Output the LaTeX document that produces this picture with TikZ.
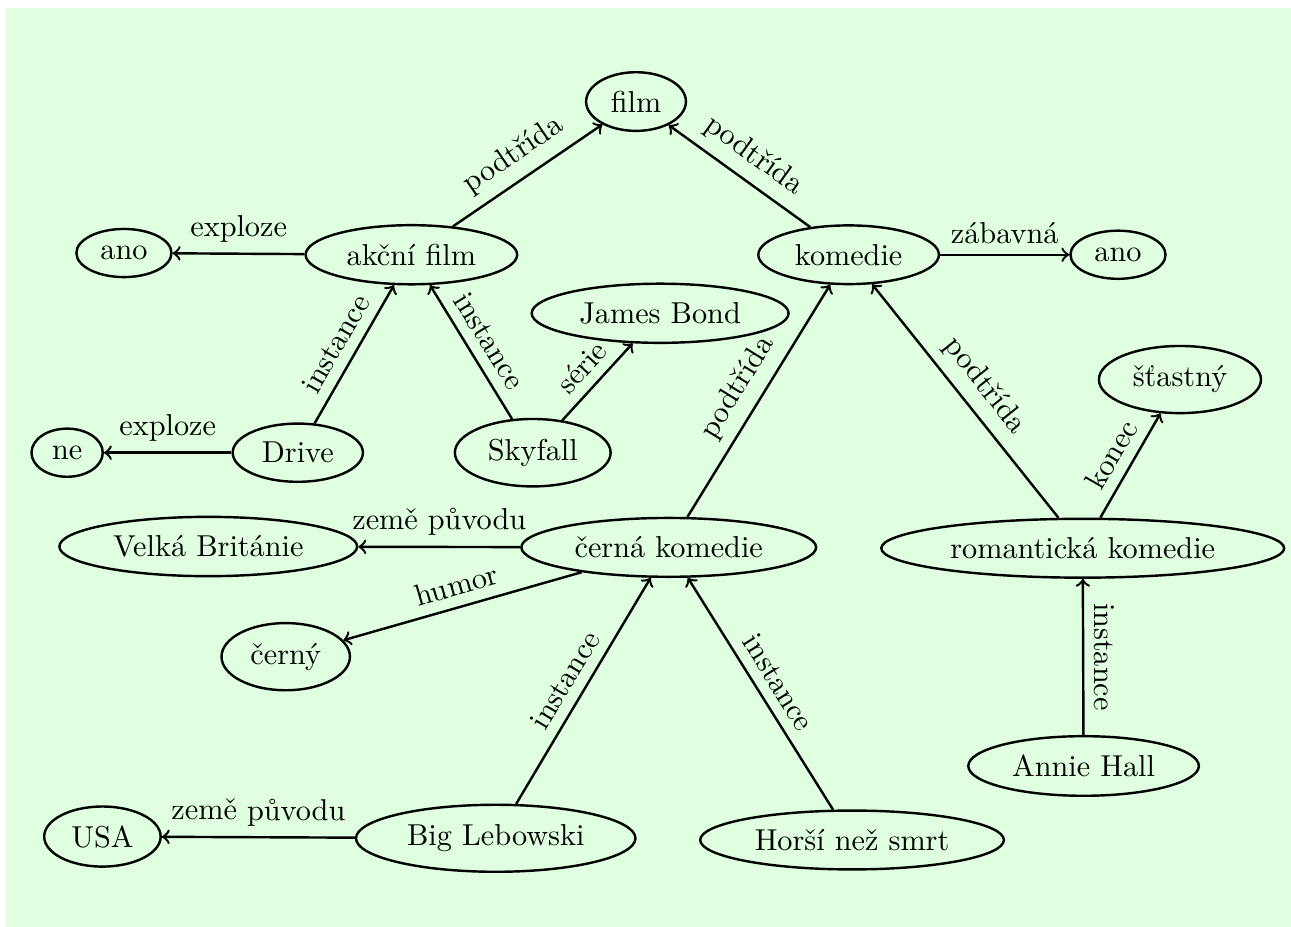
\documentclass[tikz,border=0pt]{standalone}
\usepackage{tikz}
\usetikzlibrary{shapes.geometric}
\tikzset{
  ent/.style={ellipse,draw,thick},
  rel/.style={thick,->},
  lbl/.style={sloped,above}
}

\begin{document}
\begin{tikzpicture}
\useasboundingbox (0,0) rectangle (15,10.77);
\fill[green!12] (0.07,0) rectangle (15,10.68);
% tridy
\node[ent] (film) at (7.39,9.59) {film};
\node[ent] (akcni) at (4.78,7.81) {akční film};
\node[ent] (komedie) at (9.86,7.81) {komedie};
\node[ent] (cerna) at (7.77,4.41) {černá komedie};
\node[ent] (roman) at (12.58,4.40) {romantická komedie};
% instance
\node[ent] (drive) at (3.46,5.51) {Drive};
\node[ent] (skyfall) at (6.19,5.51) {Skyfall};
\node[ent] (lebowski) at (5.76,1.03) {Big Lebowski};
\node[ent] (horsi) at (9.90,1.01) {Horší než smrt};
\node[ent] (annie) at (12.59,1.87) {Annie Hall};
% hodnoty
\node[ent] (anoA) at (1.44,7.83) {ano};
\node[ent] (anoK) at (12.99,7.81) {ano};
\node[ent] (ne) at (0.78,5.51) {ne};
\node[ent] (bond) at (7.67,7.13) {James Bond};
\node[ent] (stastny) at (13.71,6.36) {šťastný};
\node[ent] (britanie) at (2.42,4.42) {Velká Británie};
\node[ent] (cerny) at (3.32,3.14) {černý};
\node[ent] (usa) at (1.19,1.05) {USA};

\draw[rel] (akcni) -- node[lbl] {podtřída} (film);
\draw[rel] (komedie) -- node[lbl] {podtřída} (film);
\draw[rel] (akcni) -- node[lbl] {exploze} (anoA);
\draw[rel] (komedie) -- node[lbl] {zábavná} (anoK);
\draw[rel] (drive) -- node[lbl] {instance} (akcni);
\draw[rel] (drive) -- node[lbl] {exploze} (ne);
\draw[rel] (skyfall) -- node[lbl] {instance} (akcni);
\draw[rel] (skyfall) -- node[lbl] {série} (bond);
\draw[rel] (cerna) -- node[lbl] {podtřída} (komedie);
\draw[rel] (roman) -- node[lbl] {podtřída} (komedie);
\draw[rel] (roman) -- node[lbl] {konec} (stastny);
\draw[rel] (cerna) -- node[lbl] {země původu} (britanie);
\draw[rel] (cerna) -- node[lbl] {humor} (cerny);
\draw[rel] (lebowski) -- node[lbl] {instance} (cerna);
\draw[rel] (lebowski) -- node[lbl] {země původu} (usa);
\draw[rel] (horsi) -- node[lbl] {instance} (cerna);
\draw[rel] (annie) -- node[lbl] {instance} (roman);
\end{tikzpicture}
\end{document}
